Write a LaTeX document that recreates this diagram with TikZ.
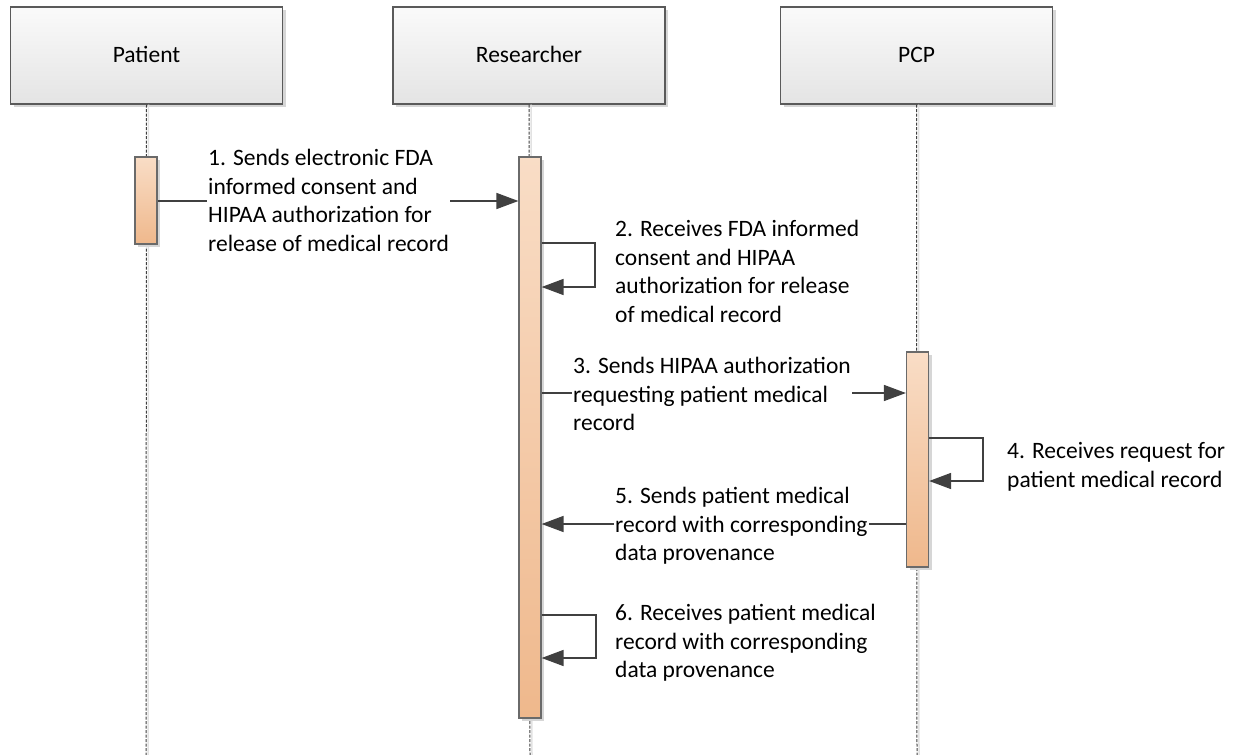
\documentclass[tikz,border=0pt]{standalone}
\usepackage{fontspec}
\setmainfont{Carlito}
\usetikzlibrary{arrows.meta,shadows}
\definecolor{lineC}{HTML}{404040}
\definecolor{boxB}{HTML}{5A5A5A}
\definecolor{boxT}{HTML}{FAFAFA}
\definecolor{boxBot}{HTML}{E4E4E4}
\definecolor{barT}{HTML}{F9DDC6}
\definecolor{barBot}{HTML}{EFB88C}
\definecolor{barB}{HTML}{6A6A6A}
\definecolor{shad}{HTML}{D6D6D6}
\tikzset{
  actor/.style={draw=boxB, line width=1.2pt, top color=boxT, bottom color=boxBot,
    minimum width=272pt, minimum height=97pt, inner sep=0pt,
    text height=17pt, text depth=3pt,
    drop shadow={shadow xshift=3pt, shadow yshift=-3pt, fill=shad, opacity=1},
    font=\fontsize{23.5}{28}\selectfont, text=black},
  actbar/.style={draw=barB, line width=1.2pt, top color=barT, bottom color=barBot,
    minimum width=22pt, inner sep=0pt,
    drop shadow={shadow xshift=3pt, shadow yshift=-3pt, fill=shad, opacity=1}},
  lifeline/.style={draw=lineC, line width=1pt, dash pattern=on 3pt off 1.5pt},
  lifeshadow/.style={draw=shad!70, line width=1.5pt},
  msg/.style={draw=lineC, line width=1.5pt, -{Triangle[length=22pt,width=16pt]}},
  lbl/.style={anchor=west, align=left, fill=white, inner sep=1pt,
    font=\fontsize{23.5}{28.7}\selectfont, text=black},
}
\begin{document}
\begin{tikzpicture}[x=1pt,y=-1pt]
\useasboundingbox[fill=white] (0,0) rectangle (1235,755);
% actors
\node[actor] (patient) at (146.5,55.5) {Patient};
\node[actor] (researcher) at (529,55.5) {Researcher};
\node[actor] (pcp) at (916.5,55.5) {PCP};
% end coordinates of lifelines
\coordinate (pend) at (146,756);
\coordinate (rend) at (530,756);
\coordinate (cend) at (917,756);
% lifelines (shadow + dashed)
\draw[lifeshadow] ([xshift=2pt]patient.south) -- ([xshift=2pt]pend);
\draw[lifeshadow] ([xshift=2pt]researcher.south) -- ([xshift=2pt]rend);
\draw[lifeshadow] ([xshift=2pt]pcp.south) -- ([xshift=2pt]cend);
\draw[lifeline] (patient.south) -- (pend);
\draw[lifeline] (researcher.south) -- (rend);
\draw[lifeline] (pcp.south) -- (cend);
% activation bars
\node[actbar, minimum height=87pt] (pbar) at (146,200.5) {};
\node[actbar, minimum height=561pt] (rbar) at (530,437.5) {};
\node[actbar, minimum height=215pt] (cbar) at (917.5,459.5) {};
% helper coordinates
\coordinate (y1) at (0,201);
\coordinate (y2a) at (0,243);
\coordinate (y2b) at (0,287);
\coordinate (x2) at (595,0);
\coordinate (y3) at (0,393);
\coordinate (y4a) at (0,438);
\coordinate (y4b) at (0,481);
\coordinate (x4) at (983,0);
\coordinate (y5) at (0,524);
\coordinate (y6a) at (0,615);
\coordinate (y6b) at (0,658);
\coordinate (x6) at (596,0);
% messages
\draw[msg] (pbar.east |- y1) -- (rbar.west |- y1);
\draw[msg] (rbar.east |- y2a) -- (x2 |- y2a) -- (x2 |- y2b) -- (rbar.east |- y2b);
\draw[msg] (rbar.east |- y3) -- (cbar.west |- y3);
\draw[msg] (cbar.east |- y4a) -- (x4 |- y4a) -- (x4 |- y4b) -- (cbar.east |- y4b);
\draw[msg] (cbar.west |- y5) -- (rbar.east |- y5);
\draw[msg] (rbar.east |- y6a) -- (x6 |- y6a) -- (x6 |- y6b) -- (rbar.east |- y6b);
% labels
\node[lbl] (l1) at (207,200.5) {1. Sends electronic FDA\\informed consent and\\HIPAA authorization for\\release of medical record};
\node[lbl] (l2) at (614,271.5) {2. Receives FDA informed\\consent and HIPAA\\authorization for release\\of medical record};
\node[lbl] (l3) at (572,394) {3. Sends HIPAA authorization\\requesting patient medical\\record};
\node[lbl] (l4) at (1006,466.5) {4. Receives request for\\patient medical record};
\node[lbl] (l5) at (614,526) {5. Sends patient medical\\record with corresponding\\data provenance};
\node[lbl] (l6) at (614,643) {6. Receives patient medical\\record with corresponding\\data provenance};
\end{tikzpicture}
\end{document}
